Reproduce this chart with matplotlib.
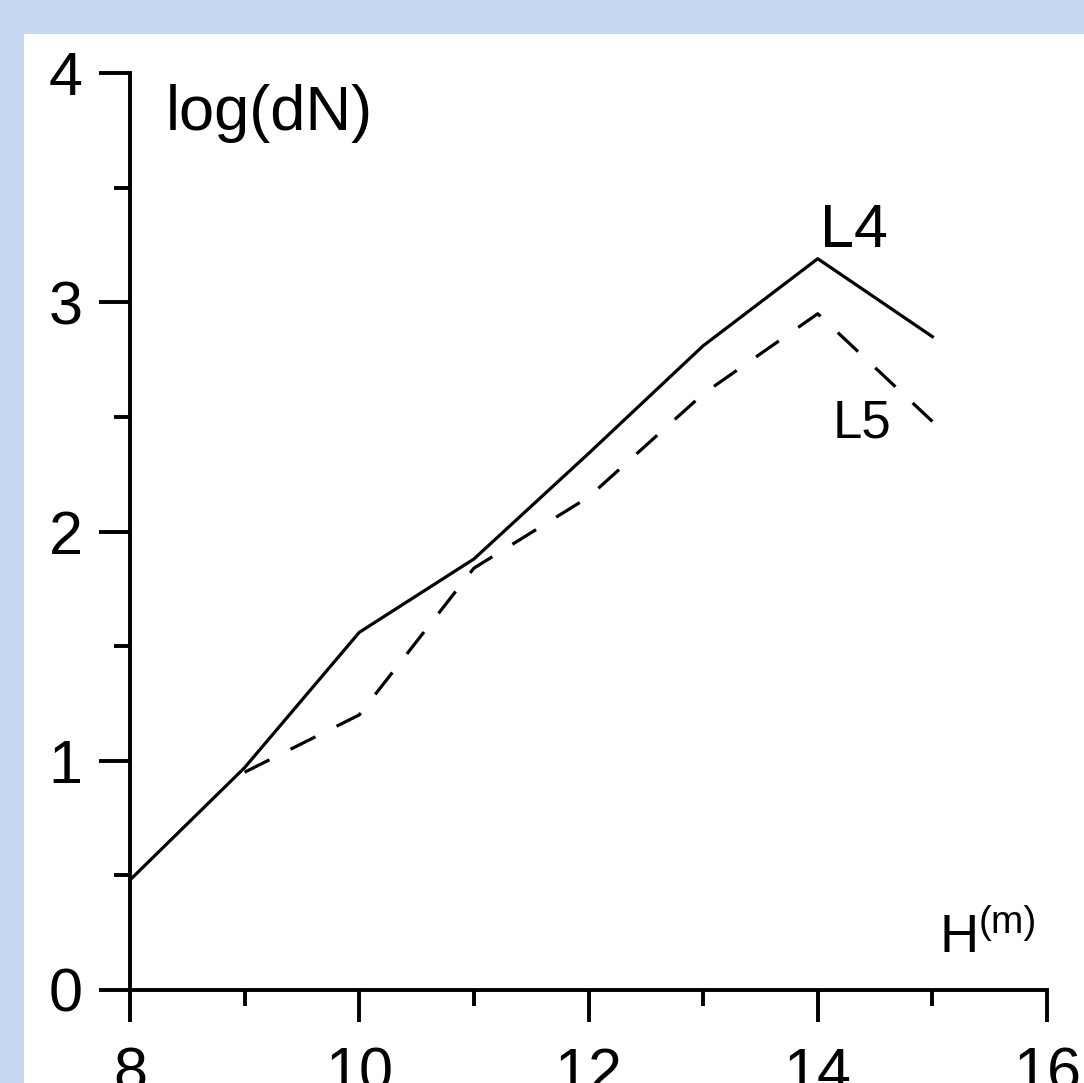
import numpy as np
import matplotlib
matplotlib.use("Agg")
import matplotlib.pyplot as plt
from matplotlib.patches import Rectangle
from matplotlib.ticker import MultipleLocator

# absolute magnitude H and log of counts for the two samples
h_l4 = [8, 9, 10, 11, 12, 13, 14, 15]
logdn_l4 = [0.48, 0.97, 1.56, 1.88, 2.34, 2.81, 3.19, 2.85]
h_l5 = [9, 10, 11, 12, 13, 14, 15]
logdn_l5 = [0.95, 1.20, 1.84, 2.15, 2.60, 2.95, 2.48]

plt.rcParams["font.family"] = ["Liberation Sans", "DejaVu Sans"]
plt.rcParams["lines.scale_dashes"] = False

W, H = 1084, 1083
fig = plt.figure(figsize=(W / 100, H / 100), dpi=100, facecolor="#C6D9F0")
fig.patches.append(Rectangle((24 / W, 0), 1, 1 - 34 / H, transform=fig.transFigure,
                             facecolor="white", edgecolor="none", zorder=-10))

ax = fig.add_axes([130 / W, (H - 990) / H, (1047 - 130) / W, (990 - 73) / H])
ax.set_facecolor("none")
ax.set_zorder(5)

ax.plot(h_l4, logdn_l4, color="black", lw=2.3, clip_on=False)
ax.plot(h_l5, logdn_l5, color="black", lw=2.3, dashes=(20, 17), clip_on=False)

ax.set_xlim(8, 16); ax.set_ylim(0, 4)
for s in ("top", "right"):
    ax.spines[s].set_visible(False)
for s in ("left", "bottom"):
    ax.spines[s].set_linewidth(2.8)

ax.xaxis.set_major_locator(MultipleLocator(2)); ax.xaxis.set_minor_locator(MultipleLocator(1))
ax.yaxis.set_major_locator(MultipleLocator(1)); ax.yaxis.set_minor_locator(MultipleLocator(0.5))
ax.tick_params(which="major", direction="out", width=2.8, labelsize=44)
ax.tick_params(axis="x", which="major", length=23, pad=18)
ax.tick_params(axis="y", which="major", length=22, pad=12)
ax.tick_params(which="minor", direction="out", width=2.8, length=11.5)

ax.text(8.31, 3.75, "log(dN)", fontsize=45.5, va="baseline")
ax.text(14.02, 3.24, "L4", fontsize=44, va="baseline")
ax.text(14.13, 2.41, "L5", fontsize=38, va="baseline")
ax.text(15.06, 0.166, "H", fontsize=39, va="baseline")
ax.text(15.40, 0.25, "(m)", fontsize=28, va="baseline")

fig.savefig("out.png", dpi=100, facecolor=fig.get_facecolor())
